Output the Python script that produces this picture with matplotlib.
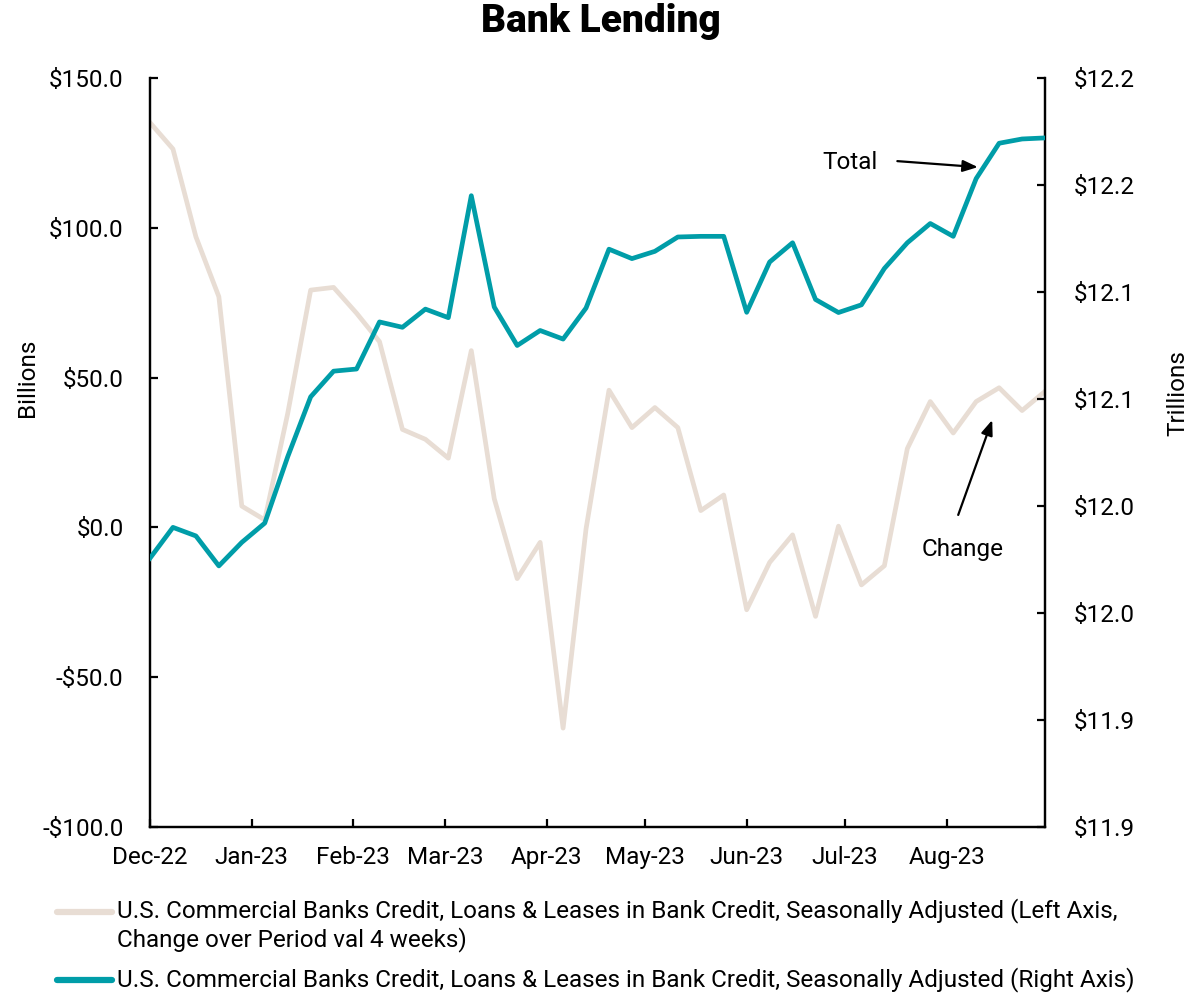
"""
Bank Lending: weekly change (left axis, billions) and total (right axis, trillions).
"""

from decimal import Decimal, ROUND_HALF_UP
import pandas as pd
import matplotlib
matplotlib.use("Agg")
import matplotlib.pyplot as plt
import matplotlib.dates as mdates
from matplotlib.lines import Line2D
from matplotlib.ticker import FuncFormatter, MultipleLocator

plt.rcParams["font.family"] = ["Roboto", "DejaVu Sans"]

COR_VARIACAO = "#E8DDD4"
COR_TOTAL = "#009DA8"
FONTE = 17.5

# --- Dados semanais (quartas-feiras) ---
datas = pd.date_range("2022-12-07", periods=40, freq="7D")

variacao_4sem = [
    135.1, 126.3, 97.0, 77.0, 7.1, 2.5, 38.0, 79.2, 80.1, 71.5,
    62.0, 32.7, 29.4, 23.1, 59.0, 9.6, -17.1, -5.0, -67.0, -0.5,
    45.8, 33.3, 40.0, 33.3, 5.6, 10.8, -27.5, -11.7, -2.5, -29.7,
    0.4, -19.2, -12.8, 26.3, 42.0, 31.5, 42.0, 46.6, 39.0, 45.4,
]

total = [
    11.9756, 11.9900, 11.9860, 11.9720, 11.9830, 11.9920, 12.0230, 12.0510, 12.0630, 12.0640,
    12.0860, 12.0835, 12.0920, 12.0880, 12.1450, 12.0930, 12.0750, 12.0820, 12.0780, 12.0925,
    12.1200, 12.1156, 12.1190, 12.1257, 12.1260, 12.1260, 12.0905, 12.1140, 12.1230, 12.0965,
    12.0904, 12.0940, 12.1110, 12.1230, 12.1320, 12.1260, 12.1530, 12.1695, 12.1715, 12.1720,
]

rotulo_variacao = ("U.S. Commercial Banks Credit, Loans & Leases in Bank Credit, Seasonally Adjusted (Left Axis,\n"
                   "Change over Period val 4 weeks)")
rotulo_total = "U.S. Commercial Banks Credit, Loans & Leases in Bank Credit, Seasonally Adjusted (Right Axis)"

meses = [datas[0] + pd.DateOffset(months=i) for i in range(9)]

fig = plt.figure(figsize=(12.02, 9.96), dpi=100)
ax = fig.add_axes([0.1248, 0.1697, 0.7446, 0.752])
ax2 = ax.twinx()

ax.plot(datas, variacao_4sem, color=COR_VARIACAO, linewidth=3.4, solid_joinstyle="round", zorder=2)
ax2.plot(datas, total, color=COR_TOTAL, linewidth=3.4, solid_joinstyle="round", zorder=3)

# --- Eixo esquerdo (bilhões) ---
ax.set_ylim(-100, 150)
ax.yaxis.set_major_locator(MultipleLocator(50))
ax.yaxis.set_major_formatter(FuncFormatter(lambda v, p: f"-${abs(v):.1f}" if v < 0 else f"${v:.1f}"))
ax.set_ylabel("Billions", fontsize=FONTE, va="center")
ax.yaxis.set_label_coords(-0.137, 0.60)

# --- Eixo direito (trilhões) ---
def fmt_trilhoes(v, p):
    d = Decimal(str(round(v, 4))).quantize(Decimal("0.1"), rounding=ROUND_HALF_UP)
    return f"${d}"

ax2.set_ylim(11.85, 12.20)
ax2.yaxis.set_major_locator(MultipleLocator(0.05))
ax2.yaxis.set_major_formatter(FuncFormatter(fmt_trilhoes))
ax2.set_ylabel("Trillions", fontsize=FONTE, va="center")
ax2.yaxis.set_label_coords(1.1486, 0.58)

# --- Eixo x ---
ax.set_xlim(datas[0], datas[-1])
ax.set_xticks(meses)
ax.xaxis.set_major_formatter(mdates.DateFormatter("%b-%y"))

for a in (ax, ax2):
    a.spines["top"].set_visible(False)
    for lado in ("left", "right", "bottom"):
        a.spines[lado].set_linewidth(1.6)
ax.tick_params(axis="y", direction="in", length=6, width=1.6, labelsize=FONTE, pad=19)
ax.tick_params(axis="x", direction="in", length=6, width=1.6, labelsize=FONTE, pad=14)
ax2.tick_params(axis="y", direction="in", length=6, width=1.6, labelsize=FONTE, pad=21)

fig.suptitle("Bank Lending", fontsize=28, fontweight="black", y=1 - 22 / 996, va="center")

# --- Anotações ---
seta = dict(arrowstyle="-|>,head_length=0.9,head_width=0.35", color="black", lw=1.6, shrinkA=0, shrinkB=0)
ax2.text(0.782, 0.8865, "Total", transform=ax2.transAxes, ha="center", va="center", fontsize=FONTE)
ax2.annotate("", xy=(0.925, 0.881), xytext=(0.835, 0.889), xycoords="axes fraction",
             textcoords="axes fraction", arrowprops=seta)
ax2.text(0.908, 0.371, "Change", transform=ax2.transAxes, ha="center", va="center", fontsize=FONTE)
ax2.annotate("", xy=(0.941, 0.5434), xytext=(0.903, 0.4166), xycoords="axes fraction",
             textcoords="axes fraction", arrowprops=seta)

# --- Legenda ---
def item_legenda(y, cor, texto, va):
    fig.add_artist(Line2D([57 / 1202, 112 / 1202], [1 - 912 / 996 if va == "top" else y] * 2,
                          transform=fig.transFigure, color=cor, linewidth=4.5, solid_capstyle="round"))
    fig.text(117 / 1202, y, texto, ha="left", va=va, fontsize=FONTE, linespacing=1.2,
             transform=fig.transFigure)

item_legenda(1 - 898 / 996, COR_VARIACAO, rotulo_variacao, "top")
item_legenda(1 - 980 / 996, COR_TOTAL, rotulo_total, "center")

fig.savefig("out.png", dpi=100)
